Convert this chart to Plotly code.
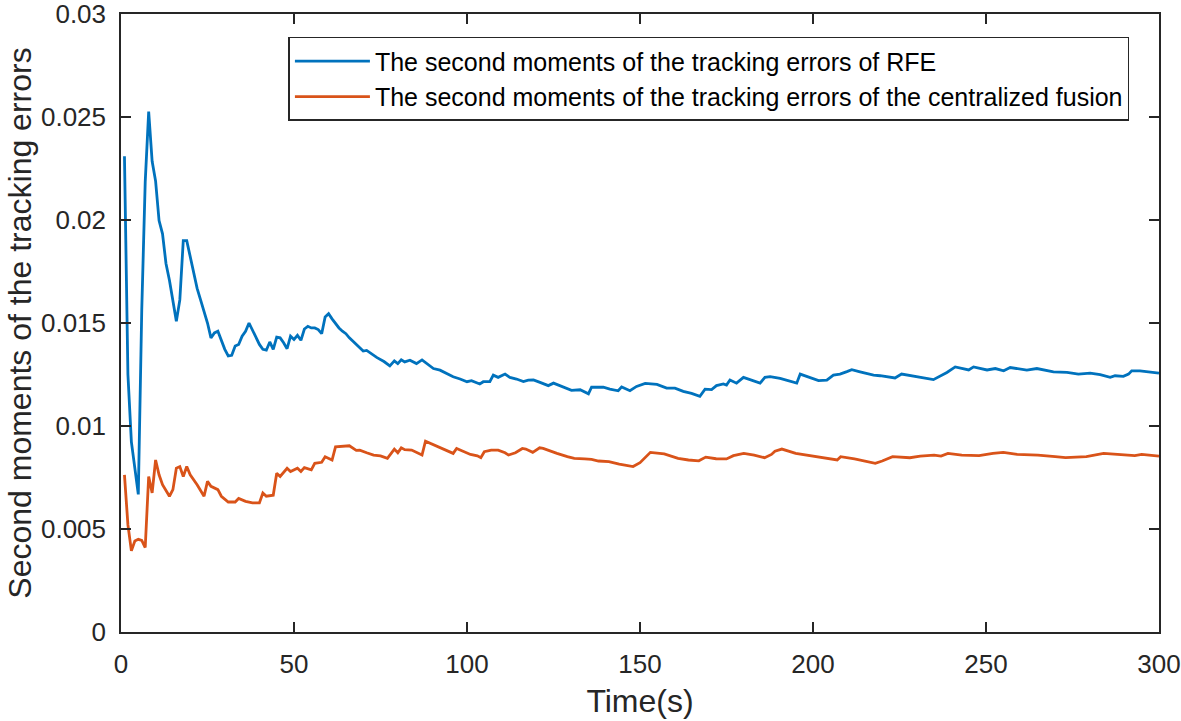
import plotly.graph_objects as go

# Series 1: RFE (time, value)
rfe_t = [1, 2, 3, 4, 5, 6, 7, 8, 9, 10, 11, 12, 13, 14, 15, 16, 17, 18, 19, 20,
         21, 22, 23, 24, 25, 26, 27, 28, 29, 30, 31, 32, 33, 34, 35, 36, 37, 38, 39, 40,
         41, 42, 43, 44, 45, 46, 47, 48, 49, 50, 51, 52, 53, 54, 55, 56, 57, 58, 59, 60,
         61, 62, 63, 64, 65, 66, 67, 68, 69, 70, 71, 72.5, 74, 76, 77.7, 79, 80, 81, 82,
         83.5, 85.4, 87, 88.3, 90.3, 92.2, 94.1, 96, 98, 100, 101.3, 102.3, 103.7, 104.7,
         106.6, 107.6, 109, 111, 112.4, 114.3, 116.3, 117.7, 119.2, 121.1, 123.5, 125,
         126.4, 127.9, 130.2, 132.7, 135.1, 136, 139.4, 141.3, 143.7, 144.7, 147.1, 149,
         151.5, 154.9, 157.7, 160.1, 162.5, 164.9, 167.3, 168.8, 170.7, 172.1, 174.1, 175,
         176, 177.9, 179.9, 184.7, 186.1, 187.6, 190.5, 195.3, 196.3, 201.6, 204, 205.9,
         207.8, 209.8, 211.2, 213.6, 217.5, 219.4, 223.7, 225.6, 231.9, 234.8, 238.7,
         241.1, 245, 246.4, 250.3, 252.7, 255.1, 257, 261.8, 264.7, 269.5, 273.4, 276.7,
         280.1, 283, 285.9, 287.3, 289.7, 291.2, 292.1, 294.5, 297.4, 300]
rfe_v = [0.02309, 0.0125, 0.00923, 0.00795, 0.00668, 0.01564, 0.02185, 0.02526, 0.02285, 0.02189,
         0.01997, 0.01933, 0.01789, 0.01708, 0.01612, 0.01508, 0.01612, 0.0190, 0.0190, 0.01821,
         0.0174, 0.01668, 0.01612, 0.01556, 0.0150, 0.01428, 0.01452, 0.0146, 0.01412, 0.01372,
         0.0134, 0.01343, 0.01388, 0.01396, 0.01436, 0.0146, 0.0150, 0.01464, 0.01428, 0.01396,
         0.01372, 0.01368, 0.01408, 0.01372, 0.01431, 0.01428, 0.01404, 0.01375, 0.01436, 0.0142,
         0.0144, 0.01416, 0.01471, 0.01484, 0.01476, 0.01476, 0.01468, 0.01448, 0.01529, 0.01545,
         0.0152, 0.01496, 0.01476, 0.0146, 0.01448, 0.01428, 0.01412, 0.01396, 0.01384, 0.01364,
         0.01367, 0.01348, 0.01332, 0.01313, 0.01292, 0.01316, 0.01303, 0.01321, 0.01311,
         0.01319, 0.01303, 0.01321, 0.01303, 0.01279, 0.01271, 0.01256, 0.01239, 0.01228, 0.01215,
         0.0122, 0.01212, 0.01204, 0.01215, 0.01215, 0.01247, 0.01236, 0.01252, 0.01236, 0.01228,
         0.01216, 0.01223, 0.01224, 0.01212, 0.01196, 0.01208, 0.01199, 0.01188, 0.01173, 0.01176,
         0.01156, 0.01188, 0.01188, 0.01179, 0.01171, 0.0119, 0.01171, 0.01192, 0.01207, 0.01202,
         0.01184, 0.01184, 0.01168, 0.01158, 0.01144, 0.01179, 0.01177, 0.01196, 0.01204, 0.01199,
         0.01223, 0.01208, 0.01236, 0.01208, 0.01236, 0.0124, 0.01231, 0.01208, 0.01252, 0.0122,
         0.01223, 0.01247, 0.01252, 0.01264, 0.01273, 0.01263, 0.01247, 0.01244, 0.01233, 0.01252,
         0.01236, 0.01225, 0.0126, 0.01287, 0.01272, 0.01287, 0.01272, 0.01279, 0.01268, 0.01284,
         0.01271, 0.01279, 0.01263, 0.0126, 0.01252, 0.01257, 0.01249, 0.01236, 0.01244, 0.01241,
         0.01252, 0.01268, 0.01268, 0.01263, 0.01257]

# Series 2: centralized fusion (time, value)
cf_t = [1, 2, 3, 4, 5, 6, 7, 8, 9, 10, 11, 12, 14, 15, 16, 17, 18, 19, 20, 22,
        24, 25, 26, 28, 29, 31, 33, 34, 36, 38, 40, 41, 42, 44, 45, 46, 48, 49, 51, 52,
        53, 55, 56, 58, 59, 61, 62, 64, 66, 68, 69, 71, 73, 75, 77, 79, 80, 81, 82, 84,
        86, 87, 88, 90, 92, 94, 96, 97, 99, 101, 103, 104, 105, 107, 109, 111, 112, 114,
        116, 117, 119, 121, 122, 124, 126, 129, 131, 134, 136, 138, 141, 144, 148, 150,
        153, 157, 161, 164, 167, 169, 172, 175, 177, 180, 183, 186, 188, 189, 191, 195,
        199, 207, 208, 212, 218, 220, 223, 228, 231, 235, 237, 239, 243, 248, 252, 255,
        259, 265, 270, 273, 279, 284, 288, 293, 295, 298, 300]
cf_v = [0.00763, 0.0052, 0.00394, 0.00442, 0.0045, 0.00445, 0.0041, 0.00755, 0.00675, 0.00835,
        0.00763, 0.00715, 0.00659, 0.00691, 0.00795, 0.00803, 0.00755, 0.00803, 0.00763, 0.00715,
        0.00659, 0.00731, 0.00707, 0.00691, 0.00659, 0.00631, 0.00631, 0.00648, 0.00634, 0.00627,
        0.00627, 0.00675, 0.00659, 0.00664, 0.00771, 0.00755, 0.00795, 0.00779, 0.00795, 0.00779,
        0.00798, 0.00787, 0.00819, 0.00824, 0.00851, 0.00835, 0.00899, 0.00902, 0.00904, 0.00882,
        0.00883, 0.0087, 0.00859, 0.00855, 0.00843, 0.00888, 0.0087, 0.00894, 0.00885, 0.00883,
        0.00868, 0.00859, 0.00926, 0.00911, 0.00898, 0.00882, 0.00867, 0.00891, 0.00875, 0.00862,
        0.00855, 0.00846, 0.00875, 0.00883, 0.00883, 0.0087, 0.00859, 0.0087, 0.00891, 0.00888,
        0.00872, 0.00894, 0.00891, 0.00878, 0.00867, 0.00851, 0.00843, 0.0084, 0.00838, 0.0083,
        0.00827, 0.00815, 0.00803, 0.00822, 0.00872, 0.00865, 0.00843, 0.00835, 0.00831, 0.00849,
        0.00841, 0.0084, 0.00856, 0.00867, 0.00859, 0.00846, 0.00862, 0.00878, 0.00888, 0.00867,
        0.00856, 0.00835, 0.00851, 0.0084, 0.00819, 0.0083, 0.00851, 0.00846, 0.00854, 0.00859,
        0.00854, 0.00867, 0.00859, 0.00856, 0.00867, 0.00872, 0.00862, 0.00859, 0.00851, 0.00846,
        0.00851, 0.00867, 0.00862, 0.00856, 0.00862, 0.00856, 0.00854]

series_names = ["The second moments of the tracking errors of RFE",
                "The second moments of the tracking errors of the centralized fusion"]
x_ticks = [0, 50, 100, 150, 200, 250, 300]
y_ticks = [0, 0.005, 0.01, 0.015, 0.02, 0.025, 0.03]
y_tick_text = ["0", "0.005", "0.01", "0.015", "0.02", "0.025", "0.03"]

FONT = "Liberation Sans, Arial, Helvetica, sans-serif"
TXT = "#262626"

fig = go.Figure()
fig.add_trace(go.Scatter(x=rfe_t, y=rfe_v, mode="lines", name=series_names[0],
                         line=dict(color="#0072BD", width=2.8)))
fig.add_trace(go.Scatter(x=cf_t, y=cf_v, mode="lines", name=series_names[1],
                         line=dict(color="#D95319", width=2.8)))

axis_common = dict(showline=True, linecolor="#262626", linewidth=1.5, mirror="ticks",
                   ticks="inside", ticklen=10, tickwidth=1.5, tickcolor="#262626",
                   showgrid=False, zeroline=False, ticklabeloverflow="allow",
                   tickfont=dict(family=FONT, size=26, color=TXT))

fig.update_xaxes(range=[0, 300], tickvals=x_ticks, ticklabelstandoff=8, **axis_common,
                 title=dict(text="Time(s)", font=dict(family=FONT, size=32, color=TXT), standoff=12))
fig.update_yaxes(range=[0, 0.03], tickvals=y_ticks, ticktext=y_tick_text, ticklabelstandoff=8,
                 **axis_common,
                 title=dict(text="Second moments of the tracking errors",
                            font=dict(family=FONT, size=32, color=TXT), standoff=0))

fig.update_layout(
    width=1181, height=721,
    margin=dict(l=121, r=22, t=14, b=89, autoexpand=False),
    paper_bgcolor="white", plot_bgcolor="white",
    showlegend=True,
    legend=dict(x=0.9715, y=0.963, xanchor="right", yanchor="top",
                bgcolor="white", bordercolor="#262626", borderwidth=1.5,
                font=dict(family=FONT, size=25, color="black"),
                tracegroupgap=0, itemwidth=75),
)

fig.write_html("out.html", config={"displayModeBar": False},
               post_script="document.body.style.margin='0px';")
